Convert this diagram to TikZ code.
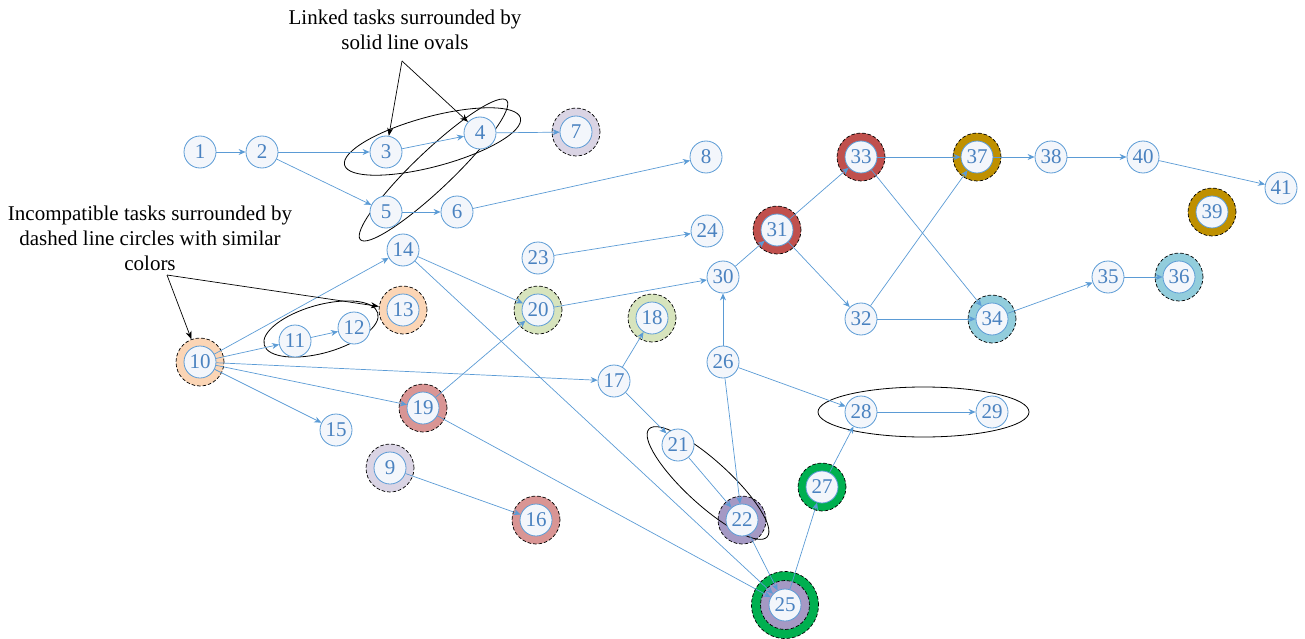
\documentclass[tikz,border=0pt]{standalone}
\usepackage{fontspec}
\setmainfont{Liberation Serif}
\usetikzlibrary{arrows.meta}
\definecolor{lineblue}{HTML}{5B9BD5}
\definecolor{textblue}{HTML}{4A82C0}
\definecolor{nodeshade}{HTML}{F3F6FB}
\definecolor{cpeach}{HTML}{FBD5B5}
\definecolor{clav}{HTML}{DAD4E4}
\definecolor{csalmon}{HTML}{D99594}
\definecolor{cgreenl}{HTML}{D7E4BD}
\definecolor{cpurple}{HTML}{A599C4}
\definecolor{cgreen}{HTML}{00B050}
\definecolor{cred}{HTML}{C0504D}
\definecolor{cblue}{HTML}{92CDDC}
\definecolor{cgold}{HTML}{BF9000}
\tikzset{
  task/.style={circle, draw=lineblue, line width=0.8pt, minimum size=32pt, inner sep=0pt,
    fill=nodeshade, text=textblue, font=\fontsize{21}{21}\selectfont},
  ring/.style={circle, draw=black, dashed, dash pattern=on 3.5pt off 2pt, line width=0.7pt,
    fill=#1, minimum size=48pt, inner sep=0pt},
  bigring/.style={circle, draw=black, dashed, dash pattern=on 3.5pt off 2pt, line width=0.7pt,
    fill=#1, minimum size=67pt, inner sep=0pt},
  edge/.style={draw=lineblue, line width=0.7pt, -{Stealth[length=7pt,width=6pt]}},
  note/.style={align=center, font=\fontsize{21}{25}\selectfont, text=black},
  notearrow/.style={draw=black, line width=0.7pt, -{Stealth[length=8pt,width=6pt]}},
  oval/.style={draw=black, line width=0.8pt}
}
\begin{document}
\begin{tikzpicture}[x=1pt,y=-1pt]
\useasboundingbox (0,0) rectangle (1305,639);
% coloured rings (behind everything)
\node[bigring=cgreen] (r25o) at (785,605) {};
\node[ring=cpurple, minimum size=49pt] (r25) at (785,605) {};
\node[ring=clav] (r7) at (576,132) {};
\node[ring=clav] (r9) at (390,468) {};
\node[ring=cpeach] (r10) at (200,362) {};
\node[ring=cpeach] (r13) at (403,310) {};
\node[ring=csalmon] (r16) at (536,520) {};
\node[ring=csalmon] (r19) at (423,408) {};
\node[ring=cgreenl] (r18) at (652,318) {};
\node[ring=cgreenl] (r20) at (538,310) {};
\node[ring=cpurple] (r22) at (742,520) {};
\node[ring=cgreen] (r27) at (822,487) {};
\node[ring=cred] (r31) at (777,230) {};
\node[ring=cred] (r33) at (861,157) {};
\node[ring=cblue] (r34) at (992,319) {};
\node[ring=cblue] (r36) at (1179,277) {};
\node[ring=cgold] (r37) at (977,157) {};
\node[ring=cgold] (r39) at (1212,212) {};
% ovals
\draw[oval, rotate around={15:(432.5,141.5)}] (432.5,141.5) ellipse (91pt and 25pt);
\draw[oval, rotate around={43.6:(433.5,170)}] (433.5,170) ellipse (101pt and 19pt);
\draw[oval, rotate around={15.7:(321,329)}] (321,329) ellipse (59pt and 24pt);
\draw[oval, rotate around={-42.4:(708,483)}] (708,483) ellipse (80pt and 22pt);
\draw[oval] (923.5,412) ellipse (105.5pt and 25pt);
% tasks
\node[task] (n1) at (200,152) {1};
\node[task] (n2) at (262,152) {2};
\node[task] (n3) at (386,152) {3};
\node[task] (n4) at (480,133) {4};
\node[task] (n5) at (386,212) {5};
\node[task] (n6) at (457,212) {6};
\node[task] (n7) at (576,132) {7};
\node[task] (n8) at (706,157) {8};
\node[task] (n9) at (390,468) {9};
\node[task] (n10) at (200,362) {10};
\node[task] (n11) at (295,341) {11};
\node[task] (n12) at (354,328) {12};
\node[task] (n13) at (403,310) {13};
\node[task] (n14) at (403,250) {14};
\node[task] (n15) at (336,430) {15};
\node[task] (n16) at (536,520) {16};
\node[task] (n17) at (614,381) {17};
\node[task] (n18) at (652,318) {18};
\node[task] (n19) at (423,408) {19};
\node[task] (n20) at (538,310) {20};
\node[task] (n21) at (678,445) {21};
\node[task] (n22) at (742,520) {22};
\node[task] (n23) at (538,258) {23};
\node[task] (n24) at (707,231) {24};
\node[task] (n25) at (785,605) {25};
\node[task] (n26) at (723,362) {26};
\node[task] (n27) at (822,487) {27};
\node[task] (n28) at (861,412) {28};
\node[task] (n29) at (992,412) {29};
\node[task] (n30) at (723,277) {30};
\node[task] (n31) at (777,230) {31};
\node[task] (n32) at (861,319) {32};
\node[task] (n33) at (861,157) {33};
\node[task] (n34) at (992,319) {34};
\node[task] (n35) at (1108,277) {35};
\node[task] (n36) at (1179,277) {36};
\node[task] (n37) at (977,157) {37};
\node[task] (n38) at (1051,157) {38};
\node[task] (n39) at (1212,212) {39};
\node[task] (n40) at (1143,157) {40};
\node[task] (n41) at (1281,188) {41};
% edges
\draw[edge] (n1) -- (n2);
\draw[edge] (n2) -- (n3);
\draw[edge] (n2) -- (n5);
\draw[edge] (n3) -- (n4);
\draw[edge] (n4) -- (n7);
\draw[edge] (n5) -- (n6);
\draw[edge] (n6) -- (n8);
\draw[edge] (n10) -- (n14);
\draw[edge] (n10) -- (n11);
\draw[edge] (n11) -- (n12);
\draw[edge] (n10) -- (n17);
\draw[edge] (n10) -- (n19);
\draw[edge] (n10) -- (n15);
\draw[edge] (n14) -- (n20);
\draw[edge] (n14) -- (n25);
\draw[edge] (n19) -- (n20);
\draw[edge] (n19) -- (n25);
\draw[edge] (n9) -- (n16);
\draw[edge] (n23) -- (n24);
\draw[edge] (n20) -- (n30);
\draw[edge] (n17) -- (n18);
\draw[edge] (n17) -- (n21);
\draw[edge] (n21) -- (n22);
\draw[edge] (n22) -- (n25);
\draw[edge] (n26) -- (n30);
\draw[edge] (n26) -- (n22);
\draw[edge] (n26) -- (n28);
\draw[edge] (n25) -- (n27);
\draw[edge] (n27) -- (n28);
\draw[edge] (n28) -- (n29);
\draw[edge] (n30) -- (n31);
\draw[edge] (n31) -- (n33);
\draw[edge] (n31) -- (n32);
\draw[edge] (n33) -- (n37);
\draw[edge] (n33) -- (n34);
\draw[edge] (n32) -- (n37);
\draw[edge] (n32) -- (n34);
\draw[edge] (n34) -- (n35);
\draw[edge] (n35) -- (n36);
\draw[edge] (n37) -- (n38);
\draw[edge] (n38) -- (n40);
\draw[edge] (n40) -- (n41);
% annotations
\node[note] (t1) at (405,30) {Linked tasks surrounded by\\solid line ovals};
\coordinate (a1) at (402,61);
\draw[notearrow] (a1) -- (n3);
\draw[notearrow] (a1) -- (n4);
\node[note] (t2) at (150,238) {Incompatible tasks surrounded by\\dashed line circles with similar\\colors};
\coordinate (a2) at (167,275);
\draw[notearrow] (a2) -- (r10);
\draw[notearrow] (a2) -- (r13);
\end{tikzpicture}
\end{document}
